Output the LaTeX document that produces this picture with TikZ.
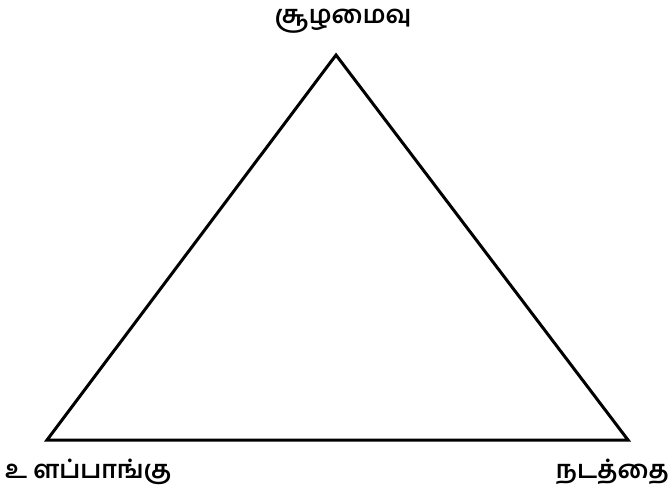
\documentclass[tikz,border=0pt]{standalone}
\usepackage{fontspec}
\newfontfamily\tamilfont[Script=Tamil]{Hind Madurai}
\begin{document}
\begin{tikzpicture}[x=1pt,y=-1pt,
  lbl/.style={font=\tamilfont\fontsize{25}{28}\selectfont\bfseries, inner sep=0pt},
  edge/.style={line width=3pt, line join=miter}]
\useasboundingbox (0,0) rectangle (672,492);
\coordinate (top) at (336,55);
\coordinate (bl) at (47,440);
\coordinate (br) at (628,440);
\draw[edge] (top) -- (br) -- (bl) -- cycle;
\node[lbl] (ctx) at (343,21) {சூழமைவு};
\node[lbl, anchor=west] (att) at (5,472) {உ ளப்பாங்கு};
\node[lbl, anchor=east] (beh) at (669,472) {நடத்தை};
\end{tikzpicture}
\end{document}
